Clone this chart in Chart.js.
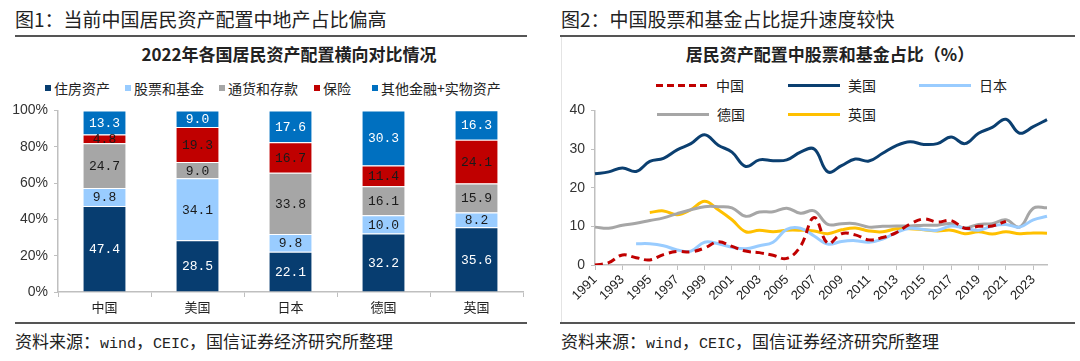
<!DOCTYPE html>
<html>
<head>
<meta charset="utf-8">
<script src="https://cdn.jsdelivr.net/npm/chart.js@4.4.0/dist/chart.umd.min.js"></script>
<style>
  html, body { margin: 0; background: #fff; }
  #page { position: relative; width: 1080px; height: 361px; overflow: hidden; font-family: "Noto Sans CJK SC", sans-serif; color: #222; }
  .fig { position: absolute; top: 5px; font-size: 19px; line-height: 28px; white-space: nowrap; }
  .rule { position: absolute; height: 2px; background: #555; }
  .frame { position: absolute; width: 1px; background: #e4e4e4; }
  .ctitle { position: absolute; top: 43px; font-size: 17px; font-weight: bold; line-height: 22px; white-space: nowrap; transform: translateX(-50%); }
  .src { position: absolute; top: 330px; font-size: 17px; line-height: 22px; white-space: nowrap; }
  .src span { font-family: "Liberation Mono", monospace; font-size: 15px; }
  .leg { position: absolute; font-size: 14px; line-height: 18px; white-space: nowrap; }
  .sq { position: absolute; width: 6px; height: 6px; }
  .ln { position: absolute; height: 3px; }
  canvas { position: absolute; }
</style>
</head>
<body>
<div id="page">
  <div class="fig" style="left:15px">图1：当前中国居民资产配置中地产占比偏高</div>
  <div class="rule" style="left:15px;width:512px;top:35px"></div>
  <div class="ctitle" style="left:289px">2022年各国居民资产配置横向对比情况</div>
  <div id="legend1"></div>
  <div class="rule" style="left:15px;width:512px;top:322px"></div>
  <div class="src" style="left:15px">资料来源：<span>wind</span>，<span>CEIC</span>，国信证券经济研究所整理</div>

  <div class="fig" style="left:561px">图2：中国股票和基金占比提升速度较快</div>
  <div class="rule" style="left:560px;width:515px;top:35px"></div>
  <div class="frame" style="left:561px;top:37px;height:285px"></div>
  <div class="ctitle" style="left:830px">居民资产配置中股票和基金占比（%）</div>
  <div id="legend2"></div>
  <div class="rule" style="left:560px;width:515px;top:322px"></div>
  <div class="src" style="left:561px">资料来源：<span>wind</span>，<span>CEIC</span>，国信证券经济研究所整理</div>

  <canvas id="barChart" style="left:0;top:96px" width="540" height="224"></canvas>
  <canvas id="lineChart" style="left:540px;top:96px" width="540" height="224"></canvas>
</div>

<script>
// Figure 1: 2022 household asset allocation (%)
const countries = ['中国', '美国', '日本', '德国', '英国'];
const housing = [47.4, 28.5, 22.1, 32.2, 35.6];
const stocksFunds = [9.8, 34.1, 9.8, 10.0, 8.2];
const cashDeposits = [24.7, 9.0, 33.8, 16.1, 15.9];
const insurance = [4.8, 19.3, 16.7, 11.4, 24.1];
const otherAssets = [13.3, 9.0, 17.6, 30.3, 16.3];
const barTicks = [0, 20, 40, 60, 80, 100];

// Figure 2: share of stocks and funds in household assets (%)
const years = ['1991', '1992', '1993', '1994', '1995', '1996', '1997', '1998', '1999', '2000',
  '2001', '2002', '2003', '2004', '2005', '2006', '2007', '2008', '2009', '2010',
  '2011', '2012', '2013', '2014', '2015', '2016', '2017', '2018', '2019', '2020',
  '2021', '2022', '2023', '2024'];
const chinaShare = [0.0, 0.6, 2.6, 1.9, 1.3, 2.7, 3.5, 3.4, 4.4, 6.0,
  4.8, 3.6, 3.2, 2.5, 1.7, 4.8, 12.3, 5.6, 8.1, 7.8,
  6.5, 7.1, 8.4, 10.6, 11.9, 11.1, 11.5, 9.5, 10.0, 10.1,
  11.3, null, null, null];
const usShare = [23.6, 24.1, 25.1, 24.2, 26.8, 27.6, 29.8, 31.4, 33.7, 31.0,
  29.2, 25.5, 27.2, 27.0, 27.2, 29.2, 30.0, 24.1, 25.7, 27.4,
  26.9, 28.9, 30.9, 31.9, 31.2, 31.4, 33.1, 31.4, 34.1, 35.6,
  37.7, 34.1, 35.8, 37.6];
const japanShare = [null, null, null, 5.5, 5.5, 5.0, 3.9, 3.6, 5.9, 5.5,
  4.6, 4.2, 5.0, 5.9, 9.2, 9.5, 7.5, 5.4, 6.1, 6.3,
  5.9, 6.7, 8.4, 9.5, 9.2, 9.0, 10.1, 9.5, 9.0, 10.1,
  10.5, 9.8, 11.7, 12.6];
const germanyShare = [9.8, 9.5, 10.3, 10.8, 11.5, 12.2, 13.3, 14.3, 15.1, 15.1,
  14.8, 12.6, 13.7, 13.8, 14.7, 13.4, 14.0, 10.5, 10.7, 10.7,
  9.8, 10.0, 10.1, 10.1, 10.3, 10.3, 10.7, 9.6, 10.5, 10.7,
  11.7, 9.8, 14.7, 14.8];
const ukShare = [null, null, null, null, 13.6, 14.0, 13.0, 14.3, 16.5, 14.3,
  11.7, 8.6, 9.0, 8.6, 9.0, 9.0, 8.8, 8.1, 9.1, 9.6,
  8.8, 8.6, 9.4, 9.4, 9.1, 8.8, 9.0, 8.1, 8.6, 8.0,
  8.6, 8.1, 8.3, 8.2];
const lineTicks = [0, 10, 20, 30, 40];

const axisGray = '#BFBFBF';
const tickFont = {family: '"Liberation Sans", Arial, sans-serif', size: 14};
const catFont = {family: '"Noto Sans CJK SC", sans-serif', size: 13};

const barSeries = [
  {label: '住房资产', data: housing, color: '#073D70', text: '#fff'},
  {label: '股票和基金', data: stocksFunds, color: '#99CCFF', text: '#1a1a1a'},
  {label: '通货和存款', data: cashDeposits, color: '#A6A6A6', text: '#1a1a1a'},
  {label: '保险', data: insurance, color: '#C00000', text: '#1a1a1a'},
  {label: '其他金融+实物资产', data: otherAssets, color: '#0070C0', text: '#fff'},
];

const lineSeries = [
  {label: '中国', data: chinaShare, color: '#C00000', dash: [8, 5]},
  {label: '美国', data: usShare, color: '#0B3F70', dash: []},
  {label: '日本', data: japanShare, color: '#99CCFF', dash: []},
  {label: '德国', data: germanyShare, color: '#A6A6A6', dash: []},
  {label: '英国', data: ukShare, color: '#FFC000', dash: []},
];

// legends as html, placed where the original has them
function buildLegends() {
  const leg1 = document.querySelector('#legend1');
  const sqX = [45, 125, 219, 314, 372];
  barSeries.forEach((s, i) => {
    leg1.insertAdjacentHTML('beforeend',
      `<div class="sq" style="left:${sqX[i]}px;top:85px;background:${s.color}"></div>` +
      `<div class="leg" style="left:${sqX[i] + 9}px;top:79px">${s.label}</div>`);
  });
  const leg2 = document.querySelector('#legend2');
  const spots = [[656, 85], [788, 85], [919, 85], [657, 114], [788, 114]];
  lineSeries.forEach((s, i) => {
    const [x, y] = spots[i];
    const bg = s.dash.length
      ? `repeating-linear-gradient(90deg, ${s.color} 0 7px, transparent 7px 11px)`
      : s.color;
    leg2.insertAdjacentHTML('beforeend',
      `<div class="ln" style="left:${x}px;top:${y - 1}px;width:52px;background:${bg}"></div>` +
      `<div class="leg" style="left:${x + 60}px;top:${y - 9}px">${s.label}</div>`);
  });
}

// value labels in the middle of every bar segment
const segmentLabels = {
  id: 'segmentLabels',
  afterDatasetsDraw(chart) {
    const ctx = chart.ctx;
    ctx.save();
    ctx.font = '13px "Liberation Mono", "DejaVu Sans Mono", monospace';
    ctx.textAlign = 'center';
    ctx.textBaseline = 'middle';
    chart.data.datasets.forEach((ds, di) => {
      chart.getDatasetMeta(di).data.forEach((bar, i) => {
        const v = ds.data[i];
        ctx.fillStyle = barSeries[di].text;
        ctx.fillText(v.toFixed(1), bar.x, (bar.y + bar.base) / 2 + 1);
      });
    });
    ctx.restore();
  },
};

function initBarChart() {
  new Chart(document.querySelector('#barChart'), {
    type: 'bar',
    data: {
      labels: countries,
      datasets: barSeries.map(s => ({
        label: s.label,
        data: s.data,
        backgroundColor: s.color,
        borderColor: '#fff',
        borderWidth: {top: 1, bottom: 0, left: 0, right: 0},
        borderSkipped: false,
        categoryPercentage: 1,
        barPercentage: 0.455,
      })),
    },
    options: {
      responsive: false,
      animation: false,
      layout: {padding: {left: 0, right: 17, top: 10, bottom: 0}},
      plugins: {legend: {display: false}, tooltip: {enabled: false}},
      scales: {
        x: {
          stacked: true,
          grid: {drawOnChartArea: false, tickLength: 5, color: axisGray, offset: true},
          border: {color: axisGray, width: 1.5},
          ticks: {font: catFont, color: '#222', padding: 2},
          afterFit: (scale) => { scale.height = 28; },
        },
        y: {
          stacked: true,
          min: 0,
          max: 100,
          afterBuildTicks: (scale) => { scale.ticks = barTicks.map(v => ({value: v})); },
          grid: {drawOnChartArea: false, tickLength: 4, color: axisGray},
          border: {color: axisGray, width: 1.5},
          ticks: {font: tickFont, color: '#333', padding: 6, callback: v => v + '%'},
          afterFit: (scale) => { scale.width = 58; },
        },
      },
    },
    plugins: [segmentLabels],
  });
}

function initLineChart() {
  new Chart(document.querySelector('#lineChart'), {
    type: 'line',
    data: {
      labels: years,
      datasets: lineSeries.map(s => ({
        label: s.label,
        data: s.data,
        borderColor: s.color,
        borderWidth: 3,
        borderDash: s.dash,
        pointRadius: 0,
        tension: 0.4,
        fill: false,
      })),
    },
    options: {
      responsive: false,
      animation: false,
      layout: {padding: {left: 0, right: 33, top: 10, bottom: 0}},
      plugins: {legend: {display: false}, tooltip: {enabled: false}},
      scales: {
        x: {
          grid: {
            drawOnChartArea: false,
            tickLength: 5,
            color: (ctx) => (ctx.index % 2 === 0 ? axisGray : 'rgba(0,0,0,0)'),
          },
          border: {color: axisGray, width: 1.5},
          ticks: {
            font: {family: '"Liberation Sans", Arial, sans-serif', size: 13},
            color: '#222',
            autoSkip: false,
            maxRotation: 45,
            minRotation: 45,
            padding: 2,
            callback: (v, i) => (i % 2 === 0 ? years[i] : ''),
          },
          afterFit: (scale) => { scale.height = 55; },
        },
        y: {
          min: 0,
          max: 40,
          afterBuildTicks: (scale) => { scale.ticks = lineTicks.map(v => ({value: v})); },
          grid: {drawOnChartArea: false, tickLength: 4, color: axisGray},
          border: {color: axisGray, width: 1.5},
          ticks: {font: tickFont, color: '#333', padding: 6},
          afterFit: (scale) => { scale.width = 55; },
        },
      },
    },
  });
}

buildLegends();
initBarChart();
initLineChart();
</script>
</body>
</html>
